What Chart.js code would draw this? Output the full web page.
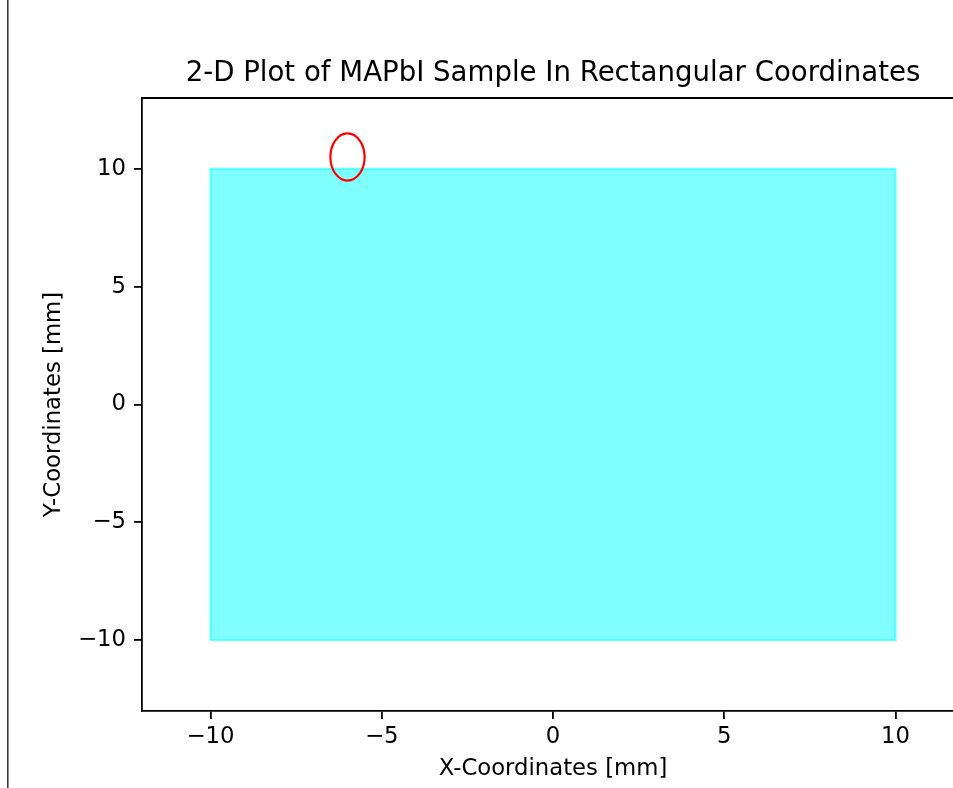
<!DOCTYPE html>
<html>
<head>
<meta charset="utf-8">
<script src="https://cdn.jsdelivr.net/npm/chart.js@4.4.1/dist/chart.umd.min.js"></script>
<style>
  html, body { margin: 0; padding: 0; background: #fff; overflow: hidden; }
  #wrap { position: absolute; left: 0; top: 0; }
</style>
</head>
<body>
<div id="wrap"><canvas id="plot" width="980" height="788"></canvas></div>
<script>
// axis limits and ticks
const xRange = [-12, 12];
const yRange = [-13, 13];
const xTicks = [-10, -5, 0, 5, 10];
const yTicks = [-10, -5, 0, 5, 10];

// sample outline, closed rectangle
const sampleX = [-10, 10, 10, -10, -10];
const sampleY = [-10, -10, 10, 10, -10];

// red marker ellipse: centre and full width/height in mm
const ellipseCenter = [-6, 10.5];
const ellipseSize = [1, 2];

const FONT = "'DejaVu Sans', 'Liberation Sans', sans-serif";

let minusLabel = v => v < 0 ? "\u2212" + Math.abs(v) : String(v);

// white background + stray vertical line at the left edge of the screenshot
const backdrop = {
  id: "backdrop",
  beforeDraw(chart){
    const ctx = chart.ctx;
    ctx.save();
    ctx.fillStyle = "#fff";
    ctx.fillRect(0, 0, chart.width, chart.height);
    ctx.strokeStyle = "#3c3c3c";
    ctx.lineWidth = 1.6;
    ctx.beginPath();
    ctx.moveTo(7.8, 0);
    ctx.lineTo(7.8, chart.height);
    ctx.stroke();
    ctx.restore();
  }
};

// top / right spines and the ellipse, drawn through the scales
const extras = {
  id: "extras",
  afterDatasetsDraw(chart){
    const {ctx, chartArea: a, scales: {x, y}} = chart;
    ctx.save();
    let cx = x.getPixelForValue(ellipseCenter[0]);
    let cy = y.getPixelForValue(ellipseCenter[1]);
    let rx = Math.abs(x.getPixelForValue(ellipseCenter[0] + ellipseSize[0] / 2) - cx);
    let ry = Math.abs(y.getPixelForValue(ellipseCenter[1] + ellipseSize[1] / 2) - cy);
    ctx.strokeStyle = "#ff0000";
    ctx.lineWidth = 2.2;
    ctx.beginPath();
    ctx.ellipse(cx, cy, rx, ry, 0, 0, Math.PI * 2);
    ctx.stroke();

    ctx.strokeStyle = "#000";
    ctx.lineWidth = 1.8;
    ctx.beginPath();
    ctx.moveTo(a.left, a.top);
    ctx.lineTo(a.right, a.top);
    ctx.lineTo(a.right, a.bottom);
    ctx.stroke();
    ctx.restore();
  }
};

const points = sampleX.map((v, i) => ({x: v, y: sampleY[i]}));

new Chart(document.getElementById("plot"), {
  type: "scatter",
  data: {
    datasets: [{
      label: "sample",
      data: points,
      showLine: true,
      fill: "shape",
      backgroundColor: "rgba(0,255,255,0.5)",
      borderColor: "rgba(0,255,255,0.5)",
      borderWidth: 2.2,
      pointRadius: 0,
      tension: 0
    }]
  },
  options: {
    responsive: false,
    animation: false,
    devicePixelRatio: 1,
    layout: { padding: { left: 0, right: 16, top: 0, bottom: 0 } },
    plugins: {
      legend: { display: false },
      tooltip: { enabled: false },
      title: {
        display: true,
        fullSize: false, // centre over the plot area like matplotlib
        text: "2-D Plot of MAPbI Sample In Rectangular Coordinates",
        color: "#000",
        font: { family: FONT, size: 27.6, weight: "normal", lineHeight: 1.2 },
        padding: { top: 57.6, bottom: 7.3 }
      }
    },
    scales: {
      x: {
        type: "linear",
        min: xRange[0],
        max: xRange[1],
        afterBuildTicks: s => { s.ticks = xTicks.map(v => ({value: v})); },
        afterFit: s => { s.height = 77; },
        grid: { drawOnChartArea: false, drawTicks: true, tickLength: 8, color: "#000", lineWidth: 1.8 },
        border: { display: true, color: "#000", width: 1.8 },
        ticks: {
          color: "#000", padding: 4, maxRotation: 0,
          font: { family: FONT, size: 22.75, lineHeight: 1.2 },
          callback: minusLabel
        },
        title: {
          display: true, text: "X-Coordinates [mm]", color: "#000",
          font: { family: FONT, size: 22.75, lineHeight: 1.2 },
          padding: { top: 0, bottom: 5 }
        }
      },
      y: {
        type: "linear",
        min: yRange[0],
        max: yRange[1],
        afterBuildTicks: s => { s.ticks = yTicks.map(v => ({value: v})); },
        afterFit: s => { s.width = 142; },
        grid: { drawOnChartArea: false, drawTicks: true, tickLength: 8, color: "#000", lineWidth: 1.8 },
        border: { display: true, color: "#000", width: 1.8 },
        ticks: {
          color: "#000", padding: 8,
          font: { family: FONT, size: 22.75, lineHeight: 1.2 },
          callback: minusLabel
        },
        title: {
          display: true, text: "Y-Coordinates [mm]", color: "#000",
          font: { family: FONT, size: 22.75, lineHeight: 1.2 },
          padding: { top: 40, bottom: 0 }
        }
      }
    }
  },
  plugins: [backdrop, extras]
});
</script>
</body>
</html>
